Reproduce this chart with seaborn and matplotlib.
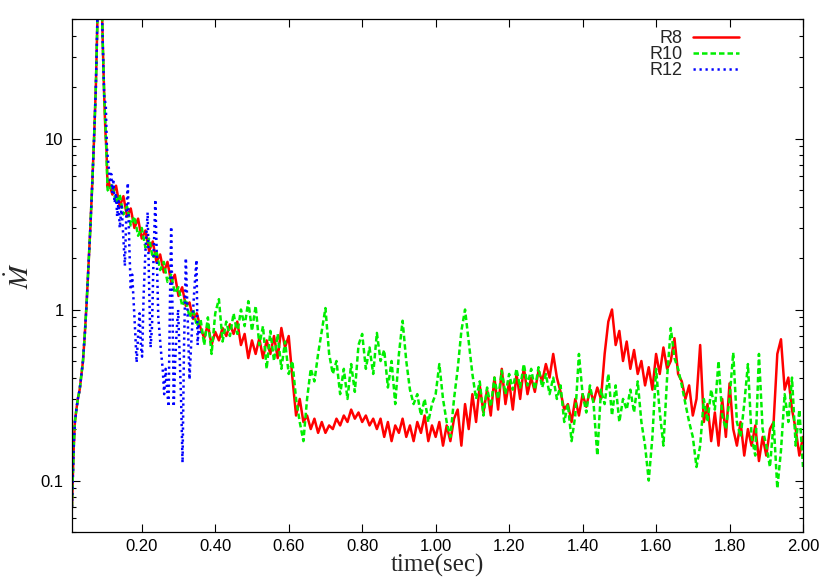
import numpy as np
import pandas as pd
import matplotlib
matplotlib.use("Agg")
import matplotlib.pyplot as plt
import seaborn as sns
from matplotlib.ticker import FixedLocator, LogLocator, FuncFormatter, NullFormatter, NullLocator

# burst phase, identical for all three runs
t_rise = [0.010, 0.012, 0.015, 0.018, 0.022, 0.026, 0.031, 0.036, 0.040, 0.045,
          0.050, 0.055, 0.060, 0.065, 0.070, 0.075, 0.080, 0.085, 0.090, 0.094, 0.098]
m_rise = [0.07, 0.10, 0.16, 0.22, 0.26, 0.30, 0.34, 0.42, 0.50, 0.72,
          1.1, 1.8, 3.0, 5.3, 9.8, 20, 60, 120, 80, 35, 17]

# short transition right after the peak
t_post = [0.101, 0.104, 0.107]
r8_post = [11, 8.5, 5.2]
r10_post = [12, 8.0, 5.0]

# R8 / R10 sampled every 0.01 s from 0.11 to 2.00
t_grid = np.round(np.arange(0.11, 2.0001, 0.01), 2)
r8 = [5.6, 4.7, 5.3, 4.0, 4.6, 3.5, 3.9, 3.0, 3.4, 2.6,
      2.9, 2.2, 2.5, 1.9, 2.1, 1.65, 1.9, 1.45, 1.6, 1.2,
      1.35, 1.05, 1.1, 0.88, 0.95, 0.78, 0.68, 0.82, 0.62, 0.74,
      0.66, 0.78, 0.70, 0.82, 0.72, 0.85, 0.62, 0.72, 0.52, 0.66,
      0.55, 0.68, 0.52, 0.66, 0.55, 0.70, 0.52, 0.78, 0.60, 0.70,
      0.40, 0.24, 0.30, 0.22, 0.24, 0.20, 0.23, 0.19, 0.22, 0.19,
      0.21, 0.20, 0.23, 0.21, 0.24, 0.22, 0.26, 0.23, 0.25, 0.22,
      0.24, 0.21, 0.23, 0.20, 0.23, 0.18, 0.22, 0.17, 0.21, 0.19,
      0.23, 0.18, 0.21, 0.17, 0.22, 0.19, 0.24, 0.17, 0.21, 0.18,
      0.22, 0.16, 0.21, 0.17, 0.23, 0.26, 0.16, 0.28, 0.20, 0.32,
      0.22, 0.36, 0.25, 0.34, 0.24, 0.40, 0.26, 0.45, 0.28, 0.38,
      0.26, 0.42, 0.30, 0.46, 0.32, 0.40, 0.33, 0.44, 0.38, 0.48,
      0.40, 0.55, 0.40, 0.33, 0.26, 0.28, 0.22, 0.30, 0.24, 0.32,
      0.27, 0.34, 0.29, 0.35, 0.30, 0.55, 0.85, 1.0, 0.62, 0.75,
      0.50, 0.65, 0.45, 0.58, 0.42, 0.50, 0.36, 0.46, 0.34, 0.55,
      0.42, 0.60, 0.45, 0.50, 0.68, 0.42, 0.38, 0.30, 0.36, 0.24,
      0.30, 0.62, 0.22, 0.28, 0.17, 0.25, 0.16, 0.30, 0.18, 0.37,
      0.20, 0.16, 0.22, 0.14, 0.20, 0.16, 0.21, 0.13, 0.18, 0.14,
      0.20, 0.22, 0.55, 0.67, 0.34, 0.40, 0.26, 0.20, 0.14, 0.18]
r10 = [4.9, 5.4, 4.2, 4.7, 3.6, 4.0, 3.1, 3.5, 2.7, 3.0,
       2.3, 2.6, 2.0, 2.2, 1.7, 1.9, 1.45, 1.6, 1.25, 1.35,
       1.05, 1.15, 0.9, 1.0, 0.8, 0.88, 0.62, 0.90, 0.55, 0.95,
       1.15, 0.65, 0.85, 0.70, 0.95, 0.72, 1.0, 0.80, 1.12, 0.75,
       1.05, 0.62, 0.80, 0.45, 0.75, 0.50, 0.72, 0.45, 0.65, 0.42,
       0.50, 0.30, 0.22, 0.17, 0.30, 0.45, 0.38, 0.55, 0.75, 1.02,
       0.55, 0.42, 0.50, 0.32, 0.45, 0.30, 0.48, 0.33, 0.62, 0.72,
       0.45, 0.60, 0.42, 0.73, 0.50, 0.58, 0.35, 0.50, 0.28, 0.55,
       0.86, 0.50, 0.34, 0.28, 0.32, 0.24, 0.30, 0.22, 0.28, 0.32,
       0.48, 0.30, 0.22, 0.18, 0.30, 0.45, 0.75, 1.0, 0.65, 0.42,
       0.30, 0.38, 0.24, 0.35, 0.27, 0.40, 0.30, 0.44, 0.32, 0.42,
       0.34, 0.45, 0.35, 0.48, 0.36, 0.45, 0.34, 0.46, 0.35, 0.42,
       0.32, 0.40, 0.30, 0.36, 0.22, 0.28, 0.17, 0.24, 0.55, 0.32,
       0.25, 0.36, 0.28, 0.14, 0.34, 0.28, 0.42, 0.24, 0.36, 0.22,
       0.30, 0.26, 0.34, 0.25, 0.38, 0.22, 0.16, 0.10, 0.18, 0.45,
       0.25, 0.16, 0.40, 0.78, 0.52, 0.45, 0.36, 0.28, 0.22, 0.18,
       0.12, 0.16, 0.30, 0.22, 0.34, 0.26, 0.50, 0.24, 0.20, 0.30,
       0.56, 0.22, 0.18, 0.28, 0.48, 0.18, 0.14, 0.55, 0.20, 0.16,
       0.12, 0.22, 0.09, 0.15, 0.32, 0.22, 0.40, 0.16, 0.26, 0.12]

# R12 only runs to ~0.36 s
t_r12 = [0.102, 0.105, 0.108, 0.111, 0.114, 0.117, 0.120, 0.123, 0.126, 0.130,
         0.133, 0.137, 0.140, 0.145, 0.150, 0.154, 0.158, 0.162, 0.166, 0.170,
         0.174, 0.178, 0.182, 0.186, 0.190, 0.194, 0.198, 0.201, 0.205, 0.210,
         0.216, 0.220, 0.224, 0.228, 0.232, 0.237, 0.241, 0.245, 0.249, 0.253,
         0.257, 0.261, 0.265, 0.269, 0.273, 0.277, 0.280, 0.284, 0.287, 0.291,
         0.295, 0.299, 0.303, 0.307, 0.311, 0.315, 0.320, 0.325, 0.330, 0.334,
         0.338, 0.342, 0.346, 0.349, 0.352, 0.355, 0.358]
r12 = [16, 9, 7.5, 6.5, 5.5, 6.2, 4.8, 5.6, 4.2, 4.8,
       3.5, 4.3, 3.0, 4.0, 2.6, 1.8, 3.6, 5.5, 2.4, 1.3,
       1.6, 1.1, 0.75, 0.49, 0.70, 0.95, 0.60, 0.53, 1.2, 2.2,
       3.7, 1.4, 0.6, 0.8, 2.0, 4.4, 2.0, 0.9, 0.7, 0.55,
       0.45, 0.32, 0.45, 0.34, 0.27, 1.2, 3.05, 0.9, 0.27, 0.5,
       0.75, 1.0, 0.55, 0.3, 0.127, 0.6, 2.0, 0.9, 0.39, 0.6,
       0.85, 1.2, 1.6, 1.95, 0.62, 0.8, 0.72]

runs = {
    "R8": (list(t_rise) + t_post + list(t_grid), m_rise + r8_post + r8),
    "R10": (list(t_rise) + t_post + list(t_grid), m_rise + r10_post + r10),
    "R12": (list(t_rise) + t_r12, m_rise + r12),
}
colors = {"R8": "#ff0000", "R10": "#00ee00", "R12": "#0000ff"}
styles = {"R8": "-", "R10": (0, (2.2, 1.2)), "R12": (0, (0.9, 1.5))}

sns.set_style("ticks")
plt.rcParams["font.family"] = ["Liberation Sans", "DejaVu Sans"]
plt.rcParams["mathtext.fontset"] = "stix"

fig = plt.figure(figsize=(8.3, 5.81), dpi=100)
ax = fig.add_axes([0.0867, 0.0843, 0.8808, 0.883])
ax.set_yscale("log")

for name, (t, m) in runs.items():
    df = pd.DataFrame({"time": t, "mdot": m})
    sns.lineplot(data=df, x="time", y="mdot", ax=ax, color=colors[name],
                 linestyle=styles[name], linewidth=1.8, label=name,
                 estimator=None, sort=False)

ax.set_xlim(0.01, 2.0)
ax.set_ylim(0.05, 50)

ax.xaxis.set_major_locator(FixedLocator(np.round(np.arange(0.2, 2.01, 0.2), 2)))
ax.xaxis.set_major_formatter(FuncFormatter(lambda v, _: f"{v:.2f}"))
ax.xaxis.set_minor_locator(NullLocator())
ax.yaxis.set_major_locator(FixedLocator([0.1, 1, 10]))
ax.yaxis.set_major_formatter(FuncFormatter(lambda v, _: f"{v:g}"))
ax.yaxis.set_minor_locator(LogLocator(base=10, subs=np.arange(2, 10), numticks=20))
ax.yaxis.set_minor_formatter(NullFormatter())

ax.tick_params(which="both", direction="in", top=True, right=True,
               width=0.8, labelsize=12, colors="black")
ax.tick_params(which="major", length=6)
ax.tick_params(which="minor", length=3)
ax.tick_params(axis="x", pad=5)
ax.tick_params(axis="y", pad=6)
for sp in ax.spines.values():
    sp.set_linewidth(0.9)
    sp.set_color("black")

ax.set_xlabel("time(sec)", family=["Liberation Serif", "DejaVu Serif"],
              fontsize=18, labelpad=0)
ax.set_ylabel(r"$\dot{M}$", fontsize=20, labelpad=4)

ax.legend(loc="upper right", bbox_to_anchor=(0.912, 0.978), frameon=False,
          markerfirst=False, fontsize=13, handlelength=2.55, handletextpad=0.55,
          labelspacing=-0.05, borderpad=0, borderaxespad=0)

fig.savefig("out.png", dpi=100)
